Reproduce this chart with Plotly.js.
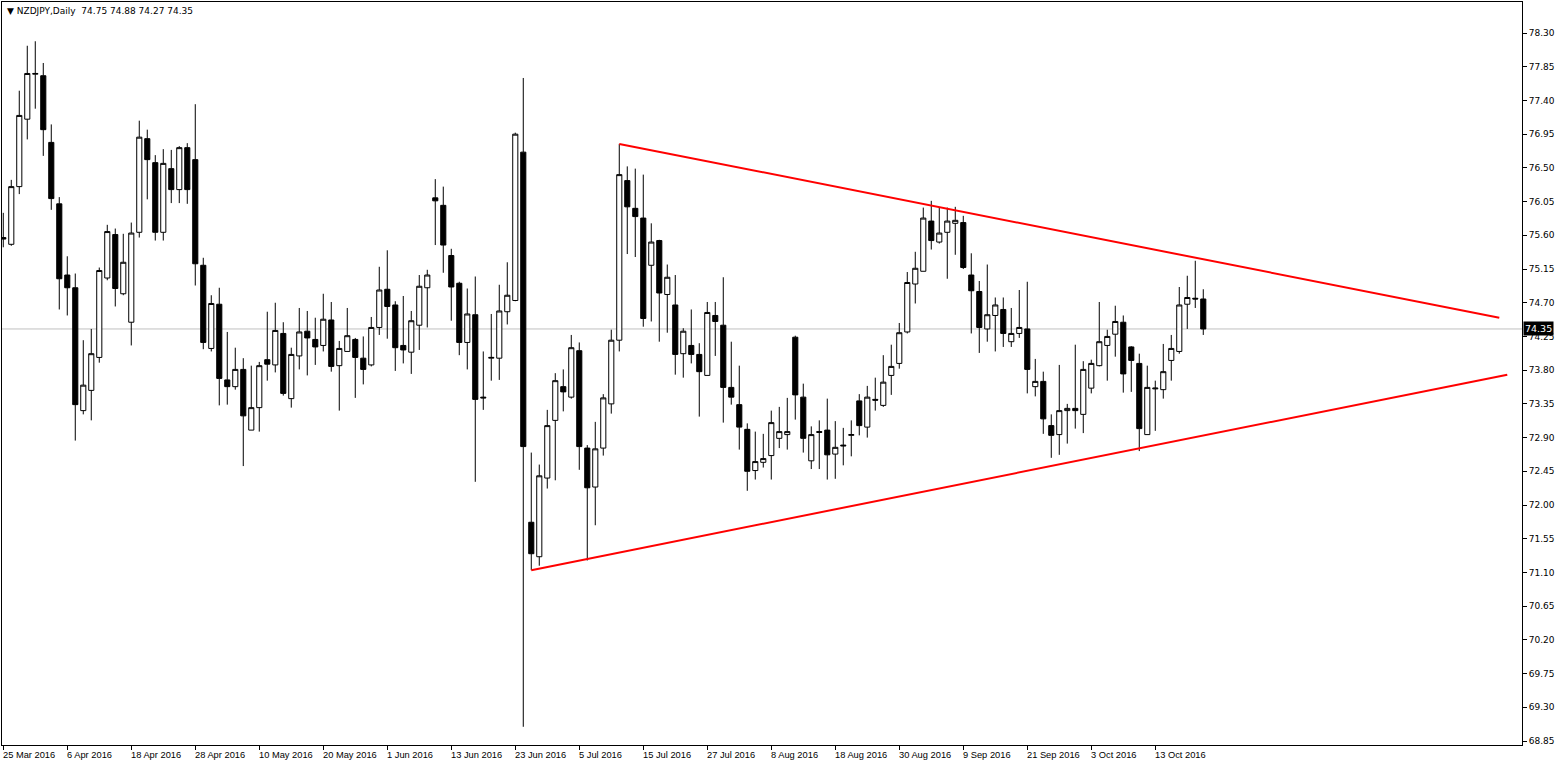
<!DOCTYPE html>
<html>
<head>
<meta charset="utf-8">
<script src="https://cdn.plot.ly/plotly-3.0.1.min.js"></script>
<style>html,body{margin:0;padding:0;background:#fff;}#chart{width:1564px;height:767px;}</style>
</head>
<body>
<div id="chart"></div>
<script>
// Daily NZDJPY bars, 25 Mar 2016 .. 21 Oct 2016 (one bar per weekday)
const openP = [75.57,75.48,76.25,77.15,77.75,77.73,76.84,76.02,75.07,74.90,
73.26,73.53,73.97,75.03,75.61,74.82,74.44,75.64,76.89,76.57,
75.64,76.49,76.21,76.77,76.61,75.20,74.09,74.68,73.67,73.58,
73.81,73.00,73.30,73.94,73.87,74.29,73.42,73.99,74.32,74.21,
74.13,74.47,73.86,74.05,74.21,73.96,73.87,74.37,74.88,74.67,
74.13,74.04,74.40,74.90,76.10,76.00,75.33,74.96,74.17,74.54,
73.44,73.96,73.96,74.58,74.73,76.71,71.77,71.31,72.36,73.13,
73.58,73.44,74.06,72.76,72.24,72.76,73.35,74.20,76.33,75.96,
75.83,75.20,75.53,74.81,74.67,74.02,74.13,74.01,73.73,74.53,
74.40,73.57,73.34,73.01,72.46,72.57,72.66,72.89,72.94,74.24,
73.44,72.59,72.98,73.00,72.68,72.80,72.93,73.39,73.04,73.41,
73.33,73.73,73.89,74.31,74.95,75.12,75.79,75.51,75.64,75.76,
75.77,75.07,74.85,74.35,74.53,74.61,74.18,74.29,74.35,73.58,
73.65,73.06,72.94,73.26,73.29,73.21,73.56,73.86,74.13,74.28,
74.44,74.11,73.89,72.94,73.55,73.54,73.93,74.05,74.68,74.76,
74.75];
const highP = [75.90,76.34,77.53,78.13,78.19,77.90,77.08,76.11,75.32,75.09,
74.20,74.35,75.17,75.74,75.69,75.62,75.77,77.13,77.01,76.67,
76.75,76.74,76.79,76.83,77.35,75.30,74.80,74.90,74.31,74.10,
73.96,73.86,73.91,74.58,74.70,74.44,74.10,74.63,74.59,74.50,
74.82,74.71,74.19,74.63,74.23,74.25,74.51,75.18,75.40,74.72,
74.79,74.59,75.07,75.14,76.35,76.25,75.42,74.98,74.89,75.05,
74.05,74.55,74.94,75.24,76.97,77.70,72.70,72.54,73.27,73.76,
73.81,74.27,74.17,72.80,73.11,73.48,74.34,76.82,76.52,76.49,
76.41,75.76,75.54,75.21,75.07,74.36,74.61,74.16,74.71,74.71,
75.04,74.18,73.86,73.09,72.98,72.95,73.26,73.31,73.43,74.26,
73.62,73.05,73.13,73.42,73.12,73.03,73.13,73.48,73.59,73.70,
74.00,74.14,74.43,75.11,75.38,75.97,76.06,75.97,75.97,75.98,
75.86,75.36,74.99,75.21,74.77,74.77,74.63,74.87,74.98,73.95,
73.78,73.21,73.87,73.35,74.14,73.92,73.94,74.71,74.34,74.66,
74.53,74.12,74.02,73.86,73.66,74.15,74.27,74.91,75.06,75.26,
74.88];
const lowP = [75.44,75.46,76.15,76.88,77.29,76.66,75.94,74.61,74.53,72.86,
73.21,73.13,73.90,75.00,74.65,74.80,74.13,75.57,76.08,75.53,
75.53,76.03,76.03,76.02,74.93,74.08,74.05,73.33,73.34,73.54,
72.52,73.00,72.98,73.66,73.77,73.46,73.30,73.81,73.73,73.87,
74.05,73.78,73.26,74.05,73.43,73.61,73.85,74.27,74.22,73.79,
73.89,73.75,74.07,74.37,75.47,75.10,74.46,74.00,73.81,72.31,
73.27,73.66,73.67,74.41,74.72,69.04,71.13,71.19,72.22,72.33,
73.25,73.42,72.47,71.26,71.73,72.66,73.22,74.05,75.35,75.31,
74.38,74.45,74.18,74.30,73.74,73.70,73.89,73.18,73.73,73.99,
73.10,73.34,72.74,72.19,72.34,72.50,72.34,72.76,72.74,73.14,
72.70,72.48,72.48,72.34,72.35,72.53,72.65,72.93,72.90,73.26,
73.31,73.47,73.82,74.29,74.69,75.12,75.41,75.49,75.02,75.34,
75.15,74.29,74.03,74.18,74.05,74.11,74.11,74.23,73.49,73.45,
72.95,72.63,72.67,72.82,73.02,72.96,73.49,73.85,73.66,73.98,
73.50,73.51,72.72,72.94,72.99,73.42,73.66,74.02,74.35,74.63,
74.27];
const closeP = [75.55,76.25,77.20,77.76,77.76,77.01,76.09,75.02,74.90,73.34,
73.60,74.02,75.13,75.65,74.89,75.24,75.63,76.91,76.61,75.64,
76.56,76.21,76.77,76.21,75.22,74.17,74.69,73.69,73.58,73.81,
73.19,73.30,73.86,73.88,74.33,73.49,74.01,74.31,74.23,74.11,
74.48,73.85,74.09,74.26,73.97,73.81,74.37,74.87,74.65,74.10,
74.07,74.46,74.92,75.07,76.06,75.47,74.91,74.17,74.55,73.41,
73.43,73.97,74.59,74.80,76.95,72.78,71.35,72.39,73.06,73.66,
73.51,74.10,72.78,72.23,72.75,73.43,74.20,76.41,75.98,75.85,
74.49,75.51,74.83,75.04,74.01,74.32,74.01,73.78,74.57,74.45,
73.57,73.44,73.04,72.45,72.58,72.62,73.10,72.98,72.98,73.47,
72.89,72.94,72.97,72.67,72.77,72.79,72.94,73.06,73.44,73.40,
73.64,73.85,74.30,74.97,75.16,75.83,75.53,75.63,75.79,75.80,
75.17,74.86,74.37,74.54,74.67,74.29,74.29,74.37,73.81,73.65,
73.15,72.93,73.26,73.29,73.26,73.81,73.89,74.18,74.25,74.45,
73.75,73.93,73.02,73.57,73.56,73.78,74.09,74.67,74.77,74.75,
74.35];

// Date axis labels and the bar index they sit on
const tickLabels = ["25 Mar 2016","6 Apr 2016","18 Apr 2016","28 Apr 2016","10 May 2016","20 May 2016",
"1 Jun 2016","13 Jun 2016","23 Jun 2016","5 Jul 2016","15 Jul 2016","27 Jul 2016","8 Aug 2016",
"18 Aug 2016","30 Aug 2016","9 Sep 2016","21 Sep 2016","3 Oct 2016","13 Oct 2016"];
const tickBars = [0,8,16,24,32,40,48,56,64,72,80,88,96,104,112,120,128,136,144];

// Triangle trend lines (bar index, price)
const upperLineBars = [77, 187];
const upperLinePrices = [76.82, 74.50];
const lowerLineBars = [66, 188];
const lowerLinePrices = [71.13, 73.74];

const lastPrice = 74.35;
const headerText = "\u25BC NZDJPY,Daily  74.75 74.88 74.27 74.35";

const xIdx = openP.map((_, i) => i);

const traces = [
  {
    type: 'candlestick',
    x: xIdx, open: openP, high: highP, low: lowP, close: closeP,
    increasing: {line: {color: '#000000', width: 1}, fillcolor: '#ffffff'},
    decreasing: {line: {color: '#000000', width: 1}, fillcolor: '#000000'},
    whiskerwidth: 0,
    hoverinfo: 'skip',
    showlegend: false
  },
  {
    type: 'scatter', mode: 'lines', x: upperLineBars, y: upperLinePrices,
    line: {color: '#ff0000', width: 2}, hoverinfo: 'skip', showlegend: false
  },
  {
    type: 'scatter', mode: 'lines', x: lowerLineBars, y: lowerLinePrices,
    line: {color: '#ff0000', width: 2}, hoverinfo: 'skip', showlegend: false
  }
];

const annotations = tickLabels.map((t, k) => ({
  x: tickBars[k], xref: 'x', y: 0, yref: 'paper',
  text: t, showarrow: false, xanchor: 'left', yanchor: 'top',
  xshift: -2, yshift: -3,
  font: {family: "'Liberation Sans',sans-serif", size: 9.3, color: '#000'}
}));
annotations.push({
  x: 0, xref: 'paper', y: 1, yref: 'paper', text: headerText, showarrow: false,
  xanchor: 'left', yanchor: 'top', xshift: 3, yshift: -2,
  font: {family: "'DejaVu Sans',sans-serif", size: 9, color: '#000'}
});
annotations.push({
  x: 1, xref: 'paper', y: lastPrice, yref: 'y', text: lastPrice.toFixed(2), showarrow: false,
  xanchor: 'left', yanchor: 'middle', xshift: 1, bgcolor: '#000000', borderpad: 1,
  font: {family: "'DejaVu Sans',sans-serif", size: 9.5, color: '#ffffff'}
});

const layout = {
  width: 1564, height: 767,
  margin: {l: 2, r: 42, t: 2, b: 22, pad: 0},
  paper_bgcolor: '#ffffff', plot_bgcolor: '#ffffff',
  showlegend: false, hovermode: false, dragmode: false,
  boxgap: 0.2, boxgroupgap: 0.2,
  xaxis: {
    type: 'linear', range: [-0.16, 189.84], fixedrange: true,
    rangeslider: {visible: false},
    showgrid: false, zeroline: false,
    showline: true, mirror: true, linecolor: '#000000', linewidth: 1,
    tickmode: 'array', tickvals: tickBars, ticktext: tickLabels,
    showticklabels: false, ticks: 'outside', ticklen: 4, tickcolor: '#000000', tickwidth: 1
  },
  yaxis: {
    side: 'right', range: [68.797, 78.714], fixedrange: true,
    showgrid: false, zeroline: false,
    showline: true, mirror: true, linecolor: '#000000', linewidth: 1,
    tickmode: 'linear', tick0: 68.85, dtick: 0.45, tickformat: '.2f',
    ticks: 'outside', ticklen: 4, tickcolor: '#000000', tickwidth: 1,
    tickfont: {family: "'DejaVu Sans',sans-serif", size: 9, color: '#000000'}
  },
  shapes: [{
    type: 'line', xref: 'paper', x0: 0, x1: 1, yref: 'y', y0: lastPrice, y1: lastPrice,
    line: {color: '#c0c0c0', width: 1}, layer: 'below'
  }],
  annotations: annotations
};

Plotly.newPlot('chart', traces, layout, {displayModeBar: false, staticPlot: true});
</script>
</body>
</html>
